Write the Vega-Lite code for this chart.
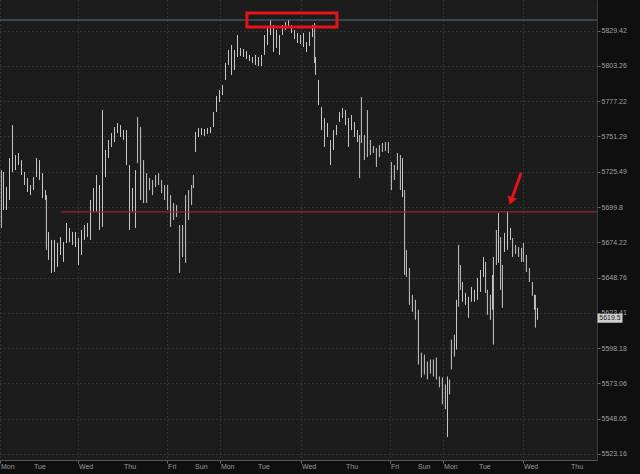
{
  "$schema": "https://vega.github.io/schema/vega-lite/v6.json",
  "width": 597,
  "height": 460,
  "autosize": {"type": "none"},
  "padding": {"left": 0, "top": 0, "right": 43, "bottom": 14},
  "background": "#0f0f0f",
  "config": {
    "view": {"stroke": null, "fill": "#1c1c1c"},
    "font": "Liberation Sans",
    "axis": {"labelOverlap": false, "labelFlush": false, "title": null}
  },
  "datasets": {
    "days": [
      {"t":0,"day":"Mon"},{"t":11,"day":"Tue"},{"t":26,"day":"Wed"},{"t":41,"day":"Thu"},{"t":55.7,"day":"Fri"},{"t":64.7,"day":"Sun"},
      {"t":73.3,"day":"Mon"},{"t":85.7,"day":"Tue"},{"t":100.3,"day":"Wed"},{"t":115,"day":"Thu"},{"t":130,"day":"Fri"},{"t":139,"day":"Sun"},
      {"t":147.7,"day":"Mon"},{"t":159.3,"day":"Tue"},{"t":174.3,"day":"Wed"},{"t":190,"day":"Thu"}
    ],
    "bars": [
      {"t":0.3,"h":5726.7,"l":5684.6},{"t":1,"h":5725.3,"l":5697.6},{"t":2,"h":5714.3,"l":5697.6},{"t":3,"h":5735.5,"l":5704.9},
      {"t":4,"h":5759.7,"l":5725.3},{"t":5,"h":5737.7,"l":5726.7},{"t":6,"h":5739.2,"l":5730.4},{"t":7,"h":5734.0,"l":5723.1},
      {"t":8,"h":5725.3,"l":5715.8},{"t":9,"h":5720.9,"l":5710.7},{"t":10,"h":5715.8,"l":5708.5},{"t":11,"h":5721.6,"l":5712.1},
      {"t":12,"h":5735.5,"l":5721.6},{"t":13,"h":5734.0,"l":5719.4},{"t":14,"h":5724.5,"l":5706.3},{"t":15,"h":5712.1,"l":5704.9},
      {"t":15.3,"h":5708.5,"l":5668.7},{"t":16,"h":5681.7,"l":5661.5},{"t":17,"h":5675.9,"l":5652.1},{"t":18,"h":5675.9,"l":5652.8},
      {"t":19,"h":5673.7,"l":5656.4},{"t":20,"h":5678.0,"l":5665.0},{"t":21,"h":5674.4,"l":5660.0},{"t":22,"h":5688.2,"l":5673.7},
      {"t":23,"h":5684.5,"l":5674.4},{"t":24,"h":5681.7,"l":5672.3},{"t":25,"h":5681.7,"l":5670.8},{"t":26,"h":5677.3,"l":5657.8},
      {"t":27,"h":5683.1,"l":5665.0},{"t":28,"h":5686.7,"l":5675.9},{"t":29,"h":5688.2,"l":5678.0},{"t":30,"h":5704.9,"l":5675.9},
      {"t":31,"h":5713.6,"l":5696.2},{"t":32,"h":5723.1,"l":5696.2},{"t":33,"h":5715.8,"l":5683.1},{"t":34,"h":5770.7,"l":5685.3},
      {"t":35,"h":5741.4,"l":5721.6},{"t":36,"h":5748.7,"l":5735.5},{"t":37,"h":5753.8,"l":5743.6},{"t":38,"h":5758.2,"l":5747.2},
      {"t":39,"h":5761.2,"l":5753.8},{"t":40,"h":5759.7,"l":5750.9},{"t":41,"h":5756.0,"l":5748.7},{"t":42,"h":5756.0,"l":5730.4},
      {"t":43,"h":5730.4,"l":5683.1},{"t":44,"h":5713.6,"l":5696.2},{"t":45,"h":5726.7,"l":5684.6},{"t":45.7,"h":5765.6,"l":5731.8},
      {"t":46.7,"h":5758.2,"l":5704.9},{"t":47.7,"h":5734.0,"l":5702.7},{"t":48.7,"h":5724.5,"l":5702.7},{"t":49.7,"h":5720.9,"l":5712.1},
      {"t":50.7,"h":5719.4,"l":5708.5},{"t":51.7,"h":5723.1,"l":5714.3},{"t":52.7,"h":5724.5,"l":5715.8},{"t":53.7,"h":5719.4,"l":5709.9},
      {"t":54.7,"h":5715.8,"l":5704.9},{"t":55.7,"h":5715.8,"l":5697.6},{"t":56.7,"h":5708.5,"l":5685.3},{"t":57.7,"h":5702.7,"l":5690.4},
      {"t":58.7,"h":5701.2,"l":5692.5},{"t":59.7,"h":5686.7,"l":5652.1},{"t":60.7,"h":5686.7,"l":5663.6},{"t":61.7,"h":5708.5,"l":5659.3},
      {"t":62.7,"h":5712.1,"l":5690.4},{"t":63.7,"h":5715.8,"l":5701.2},{"t":64.3,"h":5723.1,"l":5713.6},{"t":65,"h":5754.6,"l":5739.9},
      {"t":66,"h":5757.5,"l":5750.9},{"t":67,"h":5757.5,"l":5752.3},{"t":68,"h":5756.8,"l":5751.6},{"t":69,"h":5757.5,"l":5753.1},
      {"t":70,"h":5758.2,"l":5753.8},{"t":71,"h":5769.3,"l":5758.2},{"t":72,"h":5781.0,"l":5769.3},{"t":73,"h":5785.5,"l":5776.6},
      {"t":74,"h":5789.2,"l":5781.8},{"t":75,"h":5805.4,"l":5792.9},{"t":76,"h":5815.1,"l":5804.0},{"t":77,"h":5818.8,"l":5796.6},
      {"t":78,"h":5815.1,"l":5800.3},{"t":79,"h":5826.2,"l":5809.9},{"t":80,"h":5816.6,"l":5810.6},{"t":81,"h":5815.8,"l":5809.9},
      {"t":82,"h":5814.3,"l":5808.4},{"t":83,"h":5811.4,"l":5806.9},{"t":84,"h":5809.9,"l":5805.4},{"t":85,"h":5811.4,"l":5804.0},
      {"t":86,"h":5809.9,"l":5803.2},{"t":87,"h":5811.4,"l":5803.2},{"t":88,"h":5826.2,"l":5811.4},{"t":89,"h":5831.4,"l":5818.8},
      {"t":90,"h":5837.4,"l":5826.2},{"t":91,"h":5833.7,"l":5813.6},{"t":92,"h":5829.9,"l":5816.6},{"t":93,"h":5826.2,"l":5811.4},
      {"t":94,"h":5833.7,"l":5826.2},{"t":95,"h":5835.9,"l":5829.9},{"t":96,"h":5837.4,"l":5831.4},{"t":97,"h":5833.7,"l":5827.7},
      {"t":98,"h":5829.9,"l":5823.2},{"t":99,"h":5827.7,"l":5820.3},{"t":100,"h":5826.2,"l":5819.5},{"t":101,"h":5827.7,"l":5817.3},
      {"t":102,"h":5821.0,"l":5813.6},{"t":103,"h":5828.4,"l":5818.0},{"t":104,"h":5833.7,"l":5824.7},{"t":104.7,"h":5835.1,"l":5805.4},
      {"t":105,"h":5809.9,"l":5796.6},{"t":106,"h":5792.9,"l":5774.4},{"t":107,"h":5772.9,"l":5756.0},{"t":108,"h":5764.8,"l":5743.6},
      {"t":109,"h":5761.2,"l":5750.9},{"t":110,"h":5748.7,"l":5730.4},{"t":111,"h":5756.0,"l":5741.4},{"t":112,"h":5759.7,"l":5752.3},
      {"t":113,"h":5769.3,"l":5761.9},{"t":114,"h":5772.2,"l":5764.8},{"t":115,"h":5770.7,"l":5759.7},{"t":116,"h":5764.8,"l":5743.6},
      {"t":117,"h":5767.1,"l":5756.0},{"t":118,"h":5761.9,"l":5750.9},{"t":119,"h":5756.0,"l":5747.2},{"t":119.7,"h":5752.3,"l":5720.9},
      {"t":120.3,"h":5780.3,"l":5746.5},{"t":121.3,"h":5752.3,"l":5734.0},{"t":122.3,"h":5770.7,"l":5736.2},{"t":123.3,"h":5748.7,"l":5737.7},
      {"t":124.3,"h":5744.3,"l":5739.2},{"t":125.3,"h":5742.8,"l":5728.9},{"t":126.3,"h":5745.0,"l":5736.2},{"t":127.3,"h":5746.5,"l":5739.9},
      {"t":128.3,"h":5747.2,"l":5740.6},{"t":129.3,"h":5747.2,"l":5739.2},{"t":130.3,"h":5732.6,"l":5712.1},{"t":131.3,"h":5730.4,"l":5719.4},
      {"t":132.3,"h":5739.2,"l":5726.7},{"t":133.3,"h":5737.7,"l":5712.1},{"t":134,"h":5735.5,"l":5707.0},{"t":134.7,"h":5712.1,"l":5650.6},
      {"t":135.3,"h":5668.7,"l":5649.2},{"t":136.3,"h":5655.7,"l":5629.1},{"t":137.3,"h":5636.3,"l":5624.1},{"t":138.3,"h":5632.7,"l":5618.4},
      {"t":139.3,"h":5625.6,"l":5586.4},{"t":140.3,"h":5594.9,"l":5577.2},{"t":141.3,"h":5593.5,"l":5579.3},{"t":142.3,"h":5588.5,"l":5575.8},
      {"t":143.3,"h":5590.0,"l":5580.0},{"t":144.3,"h":5590.0,"l":5577.9},{"t":145.3,"h":5591.4,"l":5575.8},{"t":146.3,"h":5577.9,"l":5570.2},
      {"t":147.3,"h":5577.2,"l":5558.2},{"t":148.3,"h":5572.3,"l":5554.7},{"t":149,"h":5577.9,"l":5535.0},{"t":149.7,"h":5575.8,"l":5565.2},
      {"t":150.3,"h":5604.2,"l":5582.9},{"t":151.3,"h":5607.7,"l":5592.1},{"t":152,"h":5632.7,"l":5597.1},{"t":152.7,"h":5672.3,"l":5627.7},
      {"t":153.3,"h":5657.8,"l":5639.9},{"t":154,"h":5645.6,"l":5631.3},{"t":155,"h":5637.7,"l":5629.1},{"t":156,"h":5634.9,"l":5619.8},
      {"t":157,"h":5642.0,"l":5631.3},{"t":158,"h":5639.9,"l":5631.3},{"t":159,"h":5648.5,"l":5632.7},{"t":160,"h":5654.2,"l":5638.4},
      {"t":161,"h":5663.6,"l":5649.2},{"t":161.7,"h":5660.0,"l":5637.7},{"t":162.3,"h":5639.9,"l":5622.0},{"t":163.3,"h":5636.3,"l":5618.4},
      {"t":164,"h":5650.6,"l":5625.6},{"t":164.3,"h":5663.6,"l":5600.6},{"t":165.3,"h":5683.1,"l":5657.8},{"t":166,"h":5695.4,"l":5659.3},
      {"t":166.7,"h":5678.0,"l":5639.9},{"t":167.3,"h":5657.8,"l":5627.0},{"t":168,"h":5681.0,"l":5667.2},{"t":169,"h":5696.9,"l":5668.7},
      {"t":170,"h":5684.6,"l":5675.9},{"t":170.7,"h":5677.3,"l":5663.6},{"t":171.7,"h":5672.3,"l":5665.8},{"t":172.7,"h":5670.8,"l":5663.6},
      {"t":173.7,"h":5670.1,"l":5660.0},{"t":174.3,"h":5673.7,"l":5660.0},{"t":175.3,"h":5665.0,"l":5652.8},{"t":176.3,"h":5655.7,"l":5645.6},
      {"t":177.3,"h":5645.6,"l":5635.6},{"t":178,"h":5636.3,"l":5625.6},{"t":178.3,"h":5636.3,"l":5612.7},{"t":179,"h":5627.0,"l":5618.4}
    ]
  },
  "layer": [
    {
      "data": {"name": "bars"},
      "mark": {"type": "rule", "color": "#c6c6c6", "strokeWidth": 1, "xOffset": 0.5},
      "encoding": {
        "x": {"field": "t", "type": "quantitative", "title": null,
          "scale": {"domain": [0, 199], "nice": false, "zero": false},
          "axis": {"orient": "bottom", "values": [0, 11, 26, 41, 55.7, 64.7, 73.3, 85.7, 100.3, 115, 130, 139, 147.7, 159.3, 174.3, 190],
            "labels": false, "tickSize": 3, "tickColor": "#6a6a6a", "domainColor": "#5a5a5a",
            "grid": true, "gridColor": "#4a4a4a", "gridDash": [1, 3]}},
        "y": {"field": "h", "type": "quantitative", "title": null,
          "scale": {"type": "log", "domain": [5518.8, 5852.3], "nice": false, "zero": false},
          "axis": {"orient": "right", "values": [5523.16, 5548.05, 5573.06, 5598.18, 5623.41, 5648.76, 5674.22, 5699.8, 5725.49, 5751.29, 5777.22, 5803.26, 5829.42],
            "labelExpr": "'' + datum.value", "labelPadding": 1, "labelFontSize": 7, "labelColor": "#a0a0a0",
            "labelOverlap": false, "labelFlush": false, "tickSize": 3, "tickColor": "#6a6a6a", "domainColor": "#3a3a3a",
            "grid": true, "gridColor": "#4a4a4a", "gridDash": [1, 3]}},
        "y2": {"field": "l"}
      }
    },
    {
      "data": {"name": "days"},
      "transform": [{"calculate": "5518.8", "as": "ybase"}],
      "mark": {"type": "text", "align": "left", "baseline": "top", "dx": 1, "dy": 3, "fontSize": 7, "color": "#9a9a9a", "clip": false},
      "encoding": {
        "x": {"field": "t", "type": "quantitative", "title": null},
        "y": {"field": "ybase", "type": "quantitative", "title": null, "scale": {"type": "log"}},
        "text": {"field": "day", "type": "nominal"}
      }
    },
    {
      "data": {"values": [{"p": 5837.4}]},
      "mark": {"type": "rule", "color": "#55707e", "strokeWidth": 1.2},
      "encoding": {"y": {"field": "p", "type": "quantitative", "title": null, "scale": {"type": "log"}}}
    },
    {
      "data": {"values": [{"t": 20.3, "t2": 199, "p": 5696.2}]},
      "mark": {"type": "rule", "color": "#9a2828", "strokeWidth": 1.3},
      "encoding": {
        "x": {"field": "t", "type": "quantitative", "title": null},
        "x2": {"field": "t2"},
        "y": {"field": "p", "type": "quantitative", "title": null, "scale": {"type": "log"}}
      }
    },
    {
      "data": {"values": [{"t": 82.3, "t2": 112.3, "p": 5842.6, "p2": 5832.2}]},
      "mark": {"type": "rect", "fill": null, "fillOpacity": 0, "stroke": "#e8121a", "strokeWidth": 3},
      "encoding": {
        "x": {"field": "t", "type": "quantitative", "title": null},
        "x2": {"field": "t2"},
        "y": {"field": "p", "type": "quantitative", "title": null, "scale": {"type": "log"}},
        "y2": {"field": "p2"}
      }
    },
    {
      "data": {"values": [{"t": 173.7, "t2": 170.8, "p": 5724.5, "p2": 5707.0}]},
      "mark": {"type": "rule", "color": "#e8121a", "strokeWidth": 3},
      "encoding": {
        "x": {"field": "t", "type": "quantitative", "title": null},
        "x2": {"field": "t2"},
        "y": {"field": "p", "type": "quantitative", "title": null, "scale": {"type": "log"}},
        "y2": {"field": "p2"}
      }
    },
    {
      "data": {"values": [{"t": 170.3, "p": 5704.2}]},
      "mark": {"type": "point", "shape": "triangle-up", "filled": true, "color": "#e8121a", "opacity": 1, "size": 90, "angle": 201},
      "encoding": {
        "x": {"field": "t", "type": "quantitative", "title": null},
        "y": {"field": "p", "type": "quantitative", "title": null, "scale": {"type": "log"}}
      }
    },
    {
      "data": {"values": [{"t": 199, "p": 5619.5}]},
      "layer": [
        {"mark": {"type": "tick", "orient": "horizontal", "size": 25, "thickness": 9, "xOffset": 13, "color": "#cfcfcf", "opacity": 1}},
        {"mark": {"type": "text", "dx": 13, "align": "center", "baseline": "middle", "fontSize": 7, "color": "#222222"},
         "encoding": {"text": {"field": "p", "type": "quantitative", "format": ".1f"}}}
      ],
      "encoding": {
        "x": {"field": "t", "type": "quantitative", "title": null},
        "y": {"field": "p", "type": "quantitative", "title": null, "scale": {"type": "log"}}
      }
    }
  ]
}
